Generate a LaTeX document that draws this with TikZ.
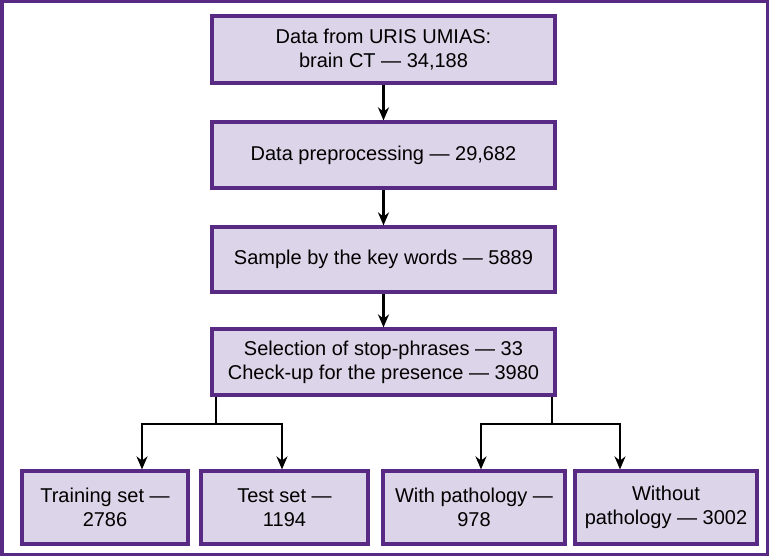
\documentclass[tikz,border=0pt]{standalone}
\usepackage{fontspec}
\setmainfont{Liberation Sans}
\usetikzlibrary{arrows.meta}
\definecolor{boxfill}{RGB}{220,212,232}
\definecolor{boxline}{RGB}{88,42,132}
\tikzset{
  box/.style={draw=boxline, line width=3.2pt, fill=boxfill, align=center, inner sep=0pt,
    font=\fontsize{20}{24}\selectfont},
  conn/.style={line width=2.4pt, black},
  arr/.style={conn, -{Stealth[length=13pt,width=11pt]}}
}
\begin{document}
\begin{tikzpicture}[x=1pt,y=-1pt]
\useasboundingbox (0,0) rectangle (769,556);
\draw[boxline, line width=3.5pt] (1.75,1.75) rectangle (767.25,554.25);
\node[box, minimum width=343pt, minimum height=67pt] (b1) at (383.5,49.5) {Data from URIS UMIAS:\\brain CT — 34,188};
\node[box, minimum width=343pt, minimum height=66pt] (b2) at (383.5,155) {Data preprocessing — 29,682};
\node[box, minimum width=343pt, minimum height=65pt] (b3) at (383.5,259.5) {Sample by the key words — 5889};
\node[box, minimum width=343pt, minimum height=66pt] (b4) at (383.5,362) {Selection of stop-phrases — 33\\Check-up for the presence — 3980};
\node[box, minimum width=166pt, minimum height=73pt] (ba) at (105,507.5) {Training set —\\2786};
\node[box, minimum width=167pt, minimum height=73pt] (bb) at (284.5,507.5) {Test set —\\1194};
\node[box, minimum width=182pt, minimum height=73pt] (bc) at (474,507.5) {With pathology —\\978};
\node[box, minimum width=182pt, minimum height=73pt] (bd) at (666,507.5) {Without\\pathology — 3002};
\draw[arr] (b1) -- (b2);
\draw[arr] (b2) -- (b3);
\draw[arr] (b3) -- (b4);
\coordinate (lx) at (216,424);
\coordinate (rx) at (552,424);
\coordinate (ja) at (142,424);
\coordinate (jb) at (282,424);
\coordinate (jc) at (481,424);
\coordinate (jd) at (620,424);
\draw[conn] (b4.south -| lx) -- (lx);
\draw[conn] (b4.south -| rx) -- (rx);
\draw[conn] ([xshift=-1.2pt]ja) -- ([xshift=1.2pt]jb);
\draw[conn] ([xshift=-1.2pt]jc) -- ([xshift=1.2pt]jd);
\draw[arr] (ja) -- (ja |- ba.north);
\draw[arr] (jb) -- (jb |- bb.north);
\draw[arr] (jc) -- (jc |- bc.north);
\draw[arr] (jd) -- (jd |- bd.north);
\end{tikzpicture}
\end{document}
